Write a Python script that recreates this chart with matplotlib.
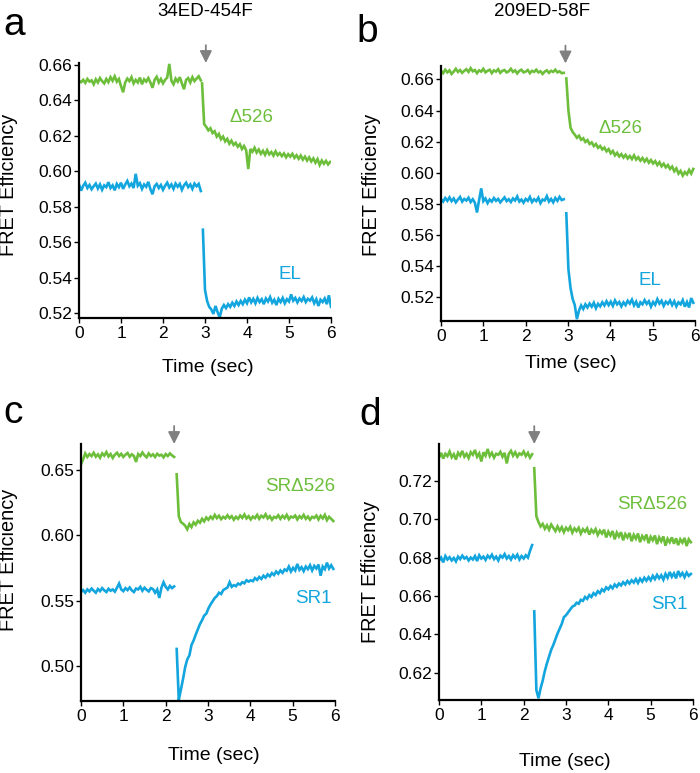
import numpy as np
import matplotlib
matplotlib.use("Agg")
import matplotlib.pyplot as plt

plt.rcParams['font.family'] = ['Liberation Sans', 'DejaVu Sans']

GREEN = '#6dbf3b'
BLUE = '#13a6de'
DT = 0.05  # sampling step of the traces (sec)

# ---- panel a : 34ED-454F ----
a_green_pre = [0.6510, 0.6502, 0.6515, 0.6498, 0.6520, 0.6505, 0.6512, 0.6490, 0.6518, 0.6500,
               0.6525, 0.6508, 0.6495, 0.6520, 0.6502, 0.6530, 0.6510, 0.6535, 0.6505, 0.6520,
               0.6480, 0.6445, 0.6500, 0.6522, 0.6508, 0.6530, 0.6495, 0.6515, 0.6500, 0.6528,
               0.6490, 0.6518, 0.6505, 0.6525, 0.6500, 0.6470, 0.6515, 0.6532, 0.6500, 0.6520,
               0.6495, 0.6515, 0.6528, 0.6605, 0.6510, 0.6490, 0.6522, 0.6505, 0.6530, 0.6495,
               0.6462, 0.6515, 0.6525, 0.6500, 0.6530, 0.6508, 0.6522, 0.6535, 0.6512]
a_green_post = [0.6495, 0.6265, 0.6250, 0.6230, 0.6242, 0.6215, 0.6225, 0.6195, 0.6210, 0.6180,
                0.6195, 0.6168, 0.6182, 0.6155, 0.6172, 0.6148, 0.6160, 0.6138, 0.6152, 0.6125,
                0.6142, 0.6118, 0.6012, 0.6125, 0.6110, 0.6132, 0.6105, 0.6122, 0.6098, 0.6115,
                0.6092, 0.6118, 0.6095, 0.6108, 0.6088, 0.6112, 0.6090, 0.6102, 0.6085, 0.6100,
                0.6078, 0.6096, 0.6082, 0.6098, 0.6075, 0.6090, 0.6070, 0.6088, 0.6065, 0.6082,
                0.6060, 0.6078, 0.6055, 0.6072, 0.6048, 0.6068, 0.6035, 0.6060, 0.6042, 0.6058,
                0.6038, 0.6052]
a_blue_pre = [0.5925, 0.5890, 0.5918, 0.5935, 0.5905, 0.5922, 0.5898, 0.5915, 0.5930, 0.5902,
              0.5925, 0.5895, 0.5920, 0.5910, 0.5938, 0.5905, 0.5920, 0.5892, 0.5928, 0.5910,
              0.5935, 0.5900, 0.5925, 0.5945, 0.5915, 0.5930, 0.5905, 0.5985, 0.5918, 0.5932,
              0.5900, 0.5925, 0.5912, 0.5940, 0.5898, 0.5870, 0.5915, 0.5928, 0.5905, 0.5922,
              0.5895, 0.5918, 0.5935, 0.5908, 0.5925, 0.5900, 0.5930, 0.5912, 0.5928, 0.5895,
              0.5920, 0.5935, 0.5910, 0.5925, 0.5900, 0.5930, 0.5915, 0.5928, 0.5888]
a_blue_post = [0.5670, 0.5330, 0.5268, 0.5235, 0.5220, 0.5195, 0.5240, 0.5205, 0.5175, 0.5225,
               0.5245, 0.5228, 0.5250, 0.5235, 0.5258, 0.5240, 0.5265, 0.5245, 0.5268, 0.5250,
               0.5275, 0.5255, 0.5288, 0.5260, 0.5280, 0.5255, 0.5285, 0.5262, 0.5278, 0.5250,
               0.5282, 0.5265, 0.5290, 0.5258, 0.5275, 0.5245, 0.5280, 0.5262, 0.5285, 0.5255,
               0.5278, 0.5265, 0.5305, 0.5270, 0.5285, 0.5260, 0.5282, 0.5268, 0.5290, 0.5262,
               0.5280, 0.5270, 0.5288, 0.5255, 0.5278, 0.5240, 0.5275, 0.5262, 0.5282, 0.5250,
               0.5300, 0.5235]

# ---- panel b : 209ED-58F ----
b_green_pre = [0.6655, 0.6640, 0.6662, 0.6645, 0.6658, 0.6635, 0.6650, 0.6668, 0.6648, 0.6660,
               0.6642, 0.6655, 0.6665, 0.6648, 0.6672, 0.6652, 0.6660, 0.6640, 0.6658, 0.6650,
               0.6668, 0.6645, 0.6655, 0.6662, 0.6640, 0.6658, 0.6650, 0.6665, 0.6642, 0.6655,
               0.6660, 0.6645, 0.6652, 0.6668, 0.6648, 0.6658, 0.6638, 0.6655, 0.6662, 0.6645,
               0.6650, 0.6660, 0.6640, 0.6655, 0.6648, 0.6662, 0.6645, 0.6652, 0.6635, 0.6650,
               0.6658, 0.6642, 0.6655, 0.6648, 0.6662, 0.6645, 0.6652, 0.6640, 0.6642]
b_green_post = [0.6606, 0.6400, 0.6290, 0.6262, 0.6245, 0.6225, 0.6238, 0.6212, 0.6222, 0.6198,
                0.6210, 0.6185, 0.6195, 0.6172, 0.6185, 0.6160, 0.6172, 0.6150, 0.6162, 0.6138,
                0.6152, 0.6125, 0.6140, 0.6112, 0.6128, 0.6105, 0.6120, 0.6098, 0.6115, 0.6092,
                0.6108, 0.6088, 0.6112, 0.6085, 0.6100, 0.6078, 0.6095, 0.6072, 0.6090, 0.6065,
                0.6082, 0.6060, 0.6075, 0.6050, 0.6068, 0.6042, 0.6058, 0.6035, 0.6050, 0.6025,
                0.6040, 0.6010, 0.6028, 0.5995, 0.6012, 0.5982, 0.6005, 0.5990, 0.6018, 0.5995,
                0.6025]
b_blue_pre = [0.5830, 0.5815, 0.5838, 0.5820, 0.5842, 0.5818, 0.5835, 0.5810, 0.5828, 0.5845,
              0.5815, 0.5832, 0.5822, 0.5840, 0.5812, 0.5830, 0.5808, 0.5745, 0.5825, 0.5900,
              0.5818, 0.5835, 0.5805, 0.5828, 0.5815, 0.5838, 0.5820, 0.5832, 0.5810, 0.5826,
              0.5842, 0.5818, 0.5830, 0.5812, 0.5835, 0.5822, 0.5848, 0.5815, 0.5828, 0.5808,
              0.5832, 0.5820, 0.5845, 0.5812, 0.5830, 0.5818, 0.5840, 0.5805, 0.5828, 0.5822,
              0.5850, 0.5815, 0.5832, 0.5810, 0.5838, 0.5820, 0.5845, 0.5825, 0.5830]
b_blue_post = [0.5740, 0.5380, 0.5260, 0.5190, 0.5150, 0.5060, 0.5115, 0.5148, 0.5125, 0.5155,
               0.5135, 0.5160, 0.5140, 0.5165, 0.5130, 0.5158, 0.5142, 0.5168, 0.5148, 0.5175,
               0.5150, 0.5172, 0.5145, 0.5180, 0.5155, 0.5170, 0.5142, 0.5168, 0.5150, 0.5178,
               0.5160, 0.5185, 0.5148, 0.5172, 0.5135, 0.5168, 0.5155, 0.5182, 0.5158, 0.5175,
               0.5140, 0.5170, 0.5152, 0.5188, 0.5160, 0.5178, 0.5145, 0.5172, 0.5158, 0.5180,
               0.5150, 0.5175, 0.5142, 0.5168, 0.5155, 0.5182, 0.5140, 0.5170, 0.5135, 0.5195,
               0.5165]

# ---- panel c ----
c_green_pre = [0.6540, 0.6580, 0.6625, 0.6598, 0.6620, 0.6605, 0.6630, 0.6600, 0.6618, 0.6592,
               0.6625, 0.6608, 0.6635, 0.6602, 0.6620, 0.6590, 0.6615, 0.6630, 0.6605, 0.6622,
               0.6598, 0.6615, 0.6628, 0.6600, 0.6618, 0.6605, 0.6560, 0.6620, 0.6605, 0.6632,
               0.6610, 0.6595, 0.6625, 0.6605, 0.6618, 0.6598, 0.6622, 0.6608, 0.6615, 0.6595,
               0.6620, 0.6605, 0.6625, 0.6610, 0.6598]
c_green_post = [0.6465, 0.6145, 0.6100, 0.6088, 0.6072, 0.6045, 0.6085, 0.6062, 0.6098, 0.6080,
                0.6110, 0.6095, 0.6125, 0.6105, 0.6135, 0.6118, 0.6142, 0.6125, 0.6155, 0.6130,
                0.6148, 0.6122, 0.6140, 0.6128, 0.6152, 0.6130, 0.6145, 0.6118, 0.6140, 0.6125,
                0.6150, 0.6132, 0.6158, 0.6128, 0.6145, 0.6120, 0.6142, 0.6130, 0.6155, 0.6125,
                0.6148, 0.6135, 0.6160, 0.6128, 0.6145, 0.6118, 0.6140, 0.6132, 0.6152, 0.6125,
                0.6148, 0.6130, 0.6155, 0.6122, 0.6142, 0.6135, 0.6150, 0.6120, 0.6145, 0.6130,
                0.6155, 0.6125, 0.6142, 0.6118, 0.6140, 0.6132, 0.6150, 0.6120, 0.6148, 0.6128,
                0.6155, 0.6115, 0.6140, 0.6125, 0.6108]
c_blue_pre = [0.5565, 0.5580, 0.5560, 0.5585, 0.5570, 0.5592, 0.5575, 0.5560, 0.5588, 0.5572,
              0.5595, 0.5578, 0.5565, 0.5590, 0.5575, 0.5585, 0.5568, 0.5598, 0.5630, 0.5585,
              0.5572, 0.5595, 0.5580, 0.5600, 0.5578, 0.5565, 0.5592, 0.5585, 0.5605, 0.5575,
              0.5598, 0.5582, 0.5570, 0.5595, 0.5588, 0.5560, 0.5585, 0.5520, 0.5598, 0.5640,
              0.5605, 0.5585, 0.5612, 0.5595, 0.5608]
c_blue_post = [0.5130, 0.4740, 0.4820, 0.4900, 0.4990, 0.5050, 0.5080, 0.5160, 0.5195, 0.5240,
               0.5280, 0.5320, 0.5350, 0.5385, 0.5400, 0.5440, 0.5470, 0.5495, 0.5520, 0.5535,
               0.5560, 0.5550, 0.5580, 0.5590, 0.5600, 0.5640, 0.5605, 0.5618, 0.5610, 0.5630,
               0.5622, 0.5640, 0.5632, 0.5655, 0.5645, 0.5655, 0.5648, 0.5672, 0.5658, 0.5680,
               0.5665, 0.5690, 0.5675, 0.5700, 0.5685, 0.5710, 0.5695, 0.5722, 0.5705, 0.5730,
               0.5712, 0.5738, 0.5728, 0.5760, 0.5722, 0.5750, 0.5730, 0.5780, 0.5735, 0.5755,
               0.5725, 0.5760, 0.5740, 0.5770, 0.5730, 0.5765, 0.5745, 0.5775, 0.5690, 0.5760,
               0.5740, 0.5790, 0.5745, 0.5770, 0.5742]

# ---- panel d ----
d_green_pre = [0.7320, 0.7345, 0.7315, 0.7340, 0.7328, 0.7352, 0.7322, 0.7338, 0.7310, 0.7345,
               0.7330, 0.7355, 0.7325, 0.7340, 0.7318, 0.7348, 0.7335, 0.7360, 0.7325, 0.7342,
               0.7300, 0.7348, 0.7330, 0.7365, 0.7328, 0.7345, 0.7320, 0.7340, 0.7335, 0.7350,
               0.7325, 0.7345, 0.7290, 0.7340, 0.7355, 0.7330, 0.7348, 0.7325, 0.7342, 0.7335,
               0.7352, 0.7328, 0.7345, 0.7320, 0.7338]
d_green_post = [0.7265, 0.7015, 0.6985, 0.6962, 0.6975, 0.6950, 0.6968, 0.6945, 0.6972, 0.6955,
                0.6938, 0.6962, 0.6940, 0.6958, 0.6932, 0.6955, 0.6942, 0.6960, 0.6930, 0.6952,
                0.6938, 0.6955, 0.6925, 0.6948, 0.6935, 0.6952, 0.6920, 0.6945, 0.6930, 0.6948,
                0.6918, 0.6940, 0.6925, 0.6945, 0.6905, 0.6935, 0.6915, 0.6938, 0.6895, 0.6930,
                0.6910, 0.6932, 0.6890, 0.6922, 0.6905, 0.6928, 0.6885, 0.6918, 0.6898, 0.6925,
                0.6880, 0.6912, 0.6895, 0.6920, 0.6875, 0.6908, 0.6890, 0.6915, 0.6870, 0.6905,
                0.6885, 0.6910, 0.6862, 0.6898, 0.6880, 0.6905, 0.6872, 0.6900, 0.6865, 0.6895,
                0.6878, 0.6902, 0.6860, 0.6895, 0.6880]
d_blue_pre = [0.6785, 0.6800, 0.6775, 0.6808, 0.6790, 0.6802, 0.6785, 0.6798, 0.6780, 0.6805,
              0.6792, 0.6810, 0.6795, 0.6803, 0.6785, 0.6800, 0.6790, 0.6808, 0.6782, 0.6812,
              0.6795, 0.6805, 0.6788, 0.6810, 0.6798, 0.6815, 0.6792, 0.6805, 0.6785, 0.6810,
              0.6800, 0.6818, 0.6795, 0.6808, 0.6790, 0.6812, 0.6798, 0.6815, 0.6790, 0.6808,
              0.6795, 0.6812, 0.6800, 0.6835, 0.6865]
d_blue_post = [0.6520, 0.6111, 0.6068, 0.6120, 0.6160, 0.6210, 0.6250, 0.6285, 0.6320, 0.6345,
               0.6375, 0.6405, 0.6430, 0.6455, 0.6490, 0.6500, 0.6515, 0.6530, 0.6545, 0.6550,
               0.6565, 0.6560, 0.6580, 0.6575, 0.6595, 0.6585, 0.6605, 0.6595, 0.6615, 0.6605,
               0.6625, 0.6615, 0.6635, 0.6625, 0.6645, 0.6635, 0.6652, 0.6640, 0.6660, 0.6648,
               0.6665, 0.6655, 0.6672, 0.6660, 0.6678, 0.6665, 0.6682, 0.6670, 0.6688, 0.6668,
               0.6690, 0.6675, 0.6695, 0.6680, 0.6698, 0.6682, 0.6705, 0.6688, 0.6710, 0.6692,
               0.6708, 0.6685, 0.6715, 0.6695, 0.6725, 0.6700, 0.6718, 0.6692, 0.6730, 0.6705,
               0.6720, 0.6698, 0.6722, 0.6705, 0.6715]

# start time of each post-event segment and the time of the arrow (sec)
post_start = {'a': (2.93, 2.95), 'b': (2.96, 2.96), 'c': (2.26, 2.26), 'd': (2.25, 2.25)}
event_time = {'a': 3.02, 'b': 2.94, 'c': 2.20, 'd': 2.25}

W, H = 700, 773


def fx(x):
    return x / W


def fy(y):
    return 1 - y / H


def trace(ax, t0, vals, color):
    t = t0 + DT * np.arange(len(vals))
    ax.plot(t, vals, color=color, lw=1.9, solid_joinstyle='miter')


def panel(fig, box, ylim, yticks, green, blue, key, labels):
    l, r, t, b = box
    ax = fig.add_axes([fx(l), fy(b), fx(r - l), fy(t) - fy(b)])
    g0, b0 = post_start[key]
    trace(ax, 0, green[0], GREEN)
    trace(ax, g0, green[1], GREEN)
    trace(ax, 0, blue[0], BLUE)
    trace(ax, b0, blue[1], BLUE)
    ax.set_xlim(0, 6)
    ax.set_ylim(*ylim)
    ax.set_xticks(range(7))
    ax.set_yticks(yticks)
    ax.set_yticklabels(['%.2f' % v for v in yticks])
    for s in ('top', 'right'):
        ax.spines[s].set_visible(False)
    for s in ('left', 'bottom'):
        ax.spines[s].set_linewidth(1.6)
    ax.tick_params(labelsize=12.5, length=3.6, width=1.0, pad=2)
    ax.tick_params(axis='y', pad=1.5)
    (gx, gy, gtxt), (bx, by, btxt) = labels
    ax.text(gx, gy, gtxt, color=GREEN, fontsize=13.5, ha='left', va='center')
    ax.text(bx, by, btxt, color=BLUE, fontsize=13.5, ha='left', va='center')
    top = 1.0 if key != 'b' else 1.01
    ax.annotate('', xy=(event_time[key], top), xytext=(event_time[key], top + 0.07),
                xycoords=('data', 'axes fraction'), annotation_clip=False,
                arrowprops=dict(arrowstyle='-|>,head_length=0.6,head_width=0.3',
                                mutation_scale=12, color='#808080', lw=1.3,
                                shrinkA=0, shrinkB=0))
    return ax


fig = plt.figure(figsize=(7, 7.73), dpi=100)

panel(fig, (79, 331, 63, 318), (0.5172, 0.661), [0.52, 0.54, 0.56, 0.58, 0.60, 0.62, 0.64, 0.66],
      (a_green_pre, a_green_post), (a_blue_pre, a_blue_post), 'a',
      [(3.58, 0.630, '\u0394526'), (4.75, 0.5417, 'EL')])
panel(fig, (441, 695, 66, 321), (0.5048, 0.6686), [0.52, 0.54, 0.56, 0.58, 0.60, 0.62, 0.64, 0.66],
      (b_green_pre, b_green_post), (b_blue_pre, b_blue_post), 'b',
      [(3.71, 0.6285, '\u0394526'), (4.66, 0.5311, 'EL')])
panel(fig, (81, 335, 444, 701), (0.4732, 0.6697), [0.50, 0.55, 0.60, 0.65],
      (c_green_pre, c_green_post), (c_blue_pre, c_blue_post), 'c',
      [(4.35, 0.6372, 'SR\u0394526'), (5.06, 0.5516, 'SR1')])
panel(fig, (439, 693, 444, 700), (0.6059, 0.7391), [0.62, 0.64, 0.66, 0.68, 0.70, 0.72],
      (d_green_pre, d_green_post), (d_blue_pre, d_blue_post), 'd',
      [(4.20, 0.7075, 'SR\u0394526'), (5.02, 0.6554, 'SR1')])

# titles, panel letters, axis labels
fig.text(fx(205), fy(12), '34ED-454F', fontsize=13.5, ha='center', va='center')
fig.text(fx(542), fy(12), '209ED-58F', fontsize=13.5, ha='center', va='center')
for letter, x, y in [('a', 3, 35), ('b', 356, 42), ('c', 3, 423), ('d', 359, 425)]:
    fig.text(fx(x), fy(y), letter, fontsize=28, ha='left', va='baseline')
for x, y in [(8.5, 185), (371.5, 185), (9, 560), (370.5, 572)]:
    fig.text(fx(x), fy(y), 'FRET Efficiency', fontsize=14.3, rotation=90, ha='center', va='center')
for x, y in [(208, 367), (571, 363), (214, 755), (565, 761)]:
    fig.text(fx(x), fy(y), 'Time (sec)', fontsize=14, ha='center', va='center')

fig.savefig('out.png', dpi=100)
